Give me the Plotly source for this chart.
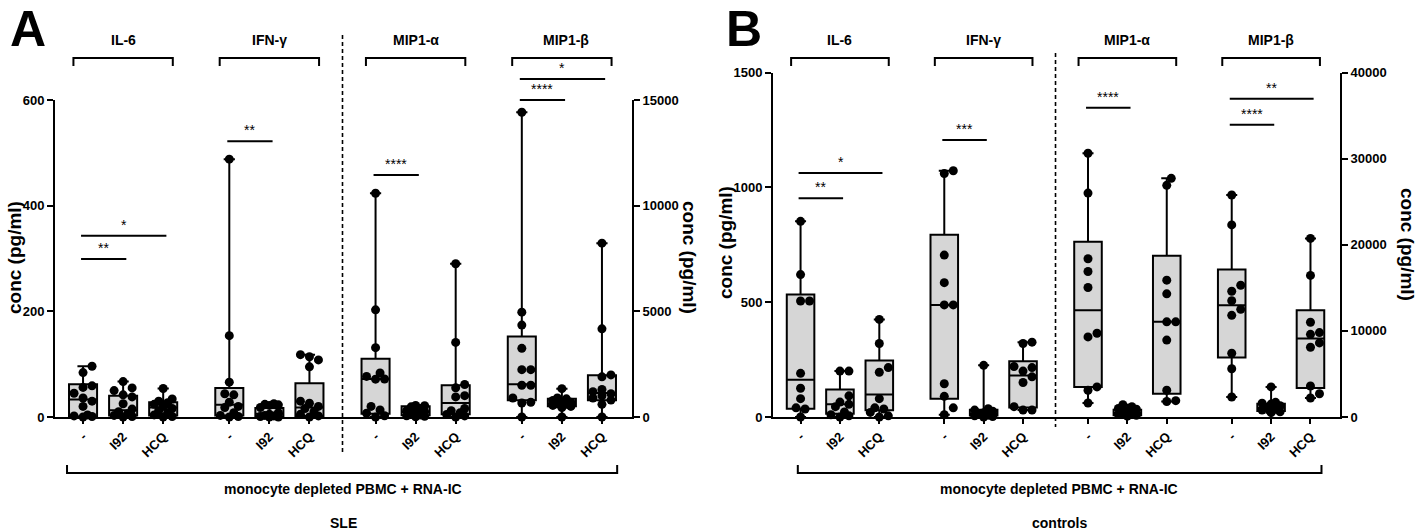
import plotly.graph_objects as go

W, H = 1418, 532
FONT = "Liberation Sans, Arial, sans-serif"

categories = ["-", "I92", "HCQ"]
cytokines = ["IL-6", "IFN-γ", "MIP1-α", "MIP1-β"]

# ---------------- Panel A: SLE (pg/ml) ----------------
a_il6_none = [96, 84, 59, 56, 45, 36, 30, 20, 4, 2, 1, 0]
a_il6_i92 = [67, 55, 50, 42, 38, 25, 15, 10, 6, 3, 1, 0]
a_il6_hcq = [54, 34, 30, 27, 24, 20, 16, 12, 8, 4, 1, 0]
a_ifng_none = [488, 154, 66, 44, 42, 28, 20, 18, 8, 3, 1, 0]
a_ifng_i92 = [25, 24, 23, 22, 18, 8, 5, 3, 2, 1, 0, 0]
a_ifng_hcq = [118, 114, 108, 95, 30, 26, 20, 16, 10, 5, 2, 0]
a_mip1a_none = [10590, 5070, 3280, 2080, 1920, 1800, 1790, 500, 330, 180, 60, 0]
a_mip1a_i92 = [550, 530, 480, 400, 300, 250, 220, 160, 100, 60, 30, 10]
a_mip1a_hcq = [7250, 3530, 1540, 1380, 1010, 950, 400, 300, 200, 120, 50, 0]
a_mip1b_none = [14420, 4960, 4350, 3250, 2240, 2240, 1500, 1500, 900, 700, 660, 0]
a_mip1b_i92 = [1340, 900, 860, 780, 700, 660, 620, 600, 550, 500, 450, 0]
a_mip1b_hcq = [8225, 4170, 1990, 1900, 1300, 1200, 1100, 1000, 900, 800, 600, 0]

a_q1 = [1, 3, 3, 3, 1, 2, 158, 79, 126, 788, 504, 788]
a_median = [33, 13, 18, 23, 6, 18, 1796, 236, 662, 1544, 630, 1134]
a_q3 = [62, 40, 28, 55, 17, 64, 2757, 504, 1497, 3813, 867, 1970]

# ---------------- Panel B: controls (pg/ml) ----------------
b_il6_none = [852, 620, 505, 505, 190, 125, 80, 40, 35, 0]
b_il6_i92 = [200, 200, 92, 65, 55, 45, 22, 10, 5, 0]
b_il6_hcq = [425, 320, 215, 195, 80, 40, 35, 20, 5, 0]
b_ifng_none = [1072, 1060, 705, 585, 488, 488, 145, 90, 40, 10]
b_ifng_i92 = [225, 36, 30, 25, 18, 12, 8, 5, 2, 0]
b_ifng_hcq = [326, 320, 220, 215, 200, 175, 150, 45, 30, 30]
b_mip1a_none = [30620, 26000, 18370, 16900, 15040, 9730, 9300, 3490, 3100, 1630]
b_mip1a_i92 = [1430, 1200, 1000, 900, 700, 500, 400, 300, 200, 100]
b_mip1a_hcq = [27710, 26900, 15890, 14300, 11050, 11050, 8930, 3100, 1900, 1800]
b_mip1b_none = [25775, 22300, 15300, 14600, 13500, 12500, 11800, 7400, 5600, 2326]
b_mip1b_i92 = [3490, 1700, 1600, 1500, 1300, 1100, 1000, 800, 600, 500]
b_mip1b_hcq = [20740, 16440, 11000, 9800, 9600, 8600, 8100, 3600, 2700, 2200]

b_q1 = [36, 14, 29, 80, 7, 41, 3488, 194, 2713, 6900, 698, 3372]
b_median = [162, 55, 98, 488, 14, 181, 12403, 465, 11047, 12985, 1085, 9109]
b_q3 = [533, 120, 246, 793, 32, 243, 20350, 853, 18720, 17130, 1550, 12403]

# significance: (from index, to index, label)
a_sig = [(0, 1, "**"), (0, 2, "*"), (3, 4, "**"), (6, 7, "****"), (9, 10, "****"), (9, 11, "*")]
b_sig = [(0, 1, "**"), (0, 2, "*"), (3, 4, "***"), (6, 7, "****"), (9, 10, "****"), (9, 11, "**")]

# ---------------- layout / style settings ----------------
a_sig_heights = [299, 343, 522, 11450, 15000, 15990]
b_sig_heights = [953, 1062, 1206, 35900, 33920, 36940]

POS = [g * 3.65 + k for g in range(4) for k in range(3)]
XR = [-0.7, 13.7]
BOXW = 0.7
DOT = 9

panels = [
    dict(letter="A", xa="x", ya="y", ya2="y2", xpx=(55, 632), ypx=(417, 100),
         yr=600, yr2=15000, yt=[0, 200, 400, 600], yt2=[0, 5000, 10000, 15000],
         pts=[a_il6_none, a_il6_i92, a_il6_hcq, a_ifng_none, a_ifng_i92, a_ifng_hcq,
              a_mip1a_none, a_mip1a_i92, a_mip1a_hcq, a_mip1b_none, a_mip1b_i92, a_mip1b_hcq],
         q1=a_q1, med=a_median, q3=a_q3, sig=a_sig, sigh=a_sig_heights,
         letter_px=(28, 28.5), title_px=[(14, 258), (689, 257)],
         dash=(6.475, 35, 452), bottom=(-0.4, 13.33), bottom_cx=343, sub="SLE",
         group_title_dx=[0, 0, 0, 0.1]),
    dict(letter="B", xa="x2", ya="y3", ya2="y4", xpx=(773, 1340), ypx=(417, 72.5),
         yr=1500, yr2=40000, yt=[0, 500, 1000, 1500], yt2=[0, 10000, 20000, 30000, 40000],
         pts=[b_il6_none, b_il6_i92, b_il6_hcq, b_ifng_none, b_ifng_i92, b_ifng_hcq,
              b_mip1a_none, b_mip1a_i92, b_mip1a_hcq, b_mip1b_none, b_mip1b_i92, b_mip1b_hcq],
         q1=b_q1, med=b_median, q3=b_q3, sig=b_sig, sigh=b_sig_heights,
         letter_px=(744, 28.5), title_px=[(725, 243), (1408, 244)],
         dash=(6.475, 53, 427), bottom=(-0.07, 13.23), bottom_cx=1059, sub="controls",
         group_title_dx=[0, 0, 0, 0]),
]


def py(p):
    return 1 - p / H


def swarm(values, ppy, ppx, d=DOT, half=13.0):
    cands = [0.0]
    step = d * 0.5
    k = 1
    while k * step <= half + 1e-9:
        cands += [k * step, -k * step]
        k += 1
    placed, res = [], [0.0] * len(values)
    for i in sorted(range(len(values)), key=lambda j: values[j]):
        y = values[i] * ppy
        chosen, best, bestd = None, 0.0, -1
        for c in cands:
            md = min([((c - a) ** 2 + (y - b) ** 2) ** 0.5 for a, b in placed], default=1e9)
            if md >= d * 0.92:
                chosen = c
                break
            if md > bestd:
                bestd, best = md, c
        if chosen is None:
            chosen = best
        placed.append((chosen, y))
        res[i] = chosen / ppx
    return res


def text(x, y, s, size, xref="paper", bold=True, angle=0, yanchor="middle", pad=1):
    return dict(x=x, y=y, xref=xref, yref="paper", text=s, showarrow=False,
                textangle=angle, xanchor="center", yanchor=yanchor, borderpad=pad,
                font=dict(family=FONT, size=size, color="black",
                          weight="bold" if bold else "normal"))


fig = go.Figure()
shapes, annots = [], []
layout_axes = {}

for pi, P in enumerate(panels):
    x0p, x1p = P["xpx"]
    yb, yt = P["ypx"]
    ppx = (x1p - x0p) / (XR[1] - XR[0])
    ppy_l = (yb - yt) / P["yr"]
    ppy_r = (yb - yt) / P["yr2"]

    # boxes
    for idx, ya in ((list(range(0, 6)), P["ya"]), (list(range(6, 12)), P["ya2"])):
        fig.add_trace(go.Box(
            x=[POS[i] for i in idx],
            q1=[P["q1"][i] for i in idx], median=[P["med"][i] for i in idx],
            q3=[P["q3"][i] for i in idx],
            lowerfence=[min(P["pts"][i]) for i in idx],
            upperfence=[max(P["pts"][i]) for i in idx],
            width=BOXW, whiskerwidth=0.4, boxpoints=False,
            fillcolor="#d6d6d6", line=dict(color="black", width=2),
            xaxis=P["xa"], yaxis=ya, showlegend=False, hoverinfo="skip"))
    # points
    for i in range(12):
        vals = P["pts"][i]
        ppy = ppy_l if i < 6 else ppy_r
        offs = swarm(vals, ppy, ppx)
        fig.add_trace(go.Scatter(
            x=[POS[i] + o for o in offs], y=vals, mode="markers",
            marker=dict(color="black", size=DOT, line=dict(width=0)),
            cliponaxis=False, xaxis=P["xa"], yaxis=P["ya"] if i < 6 else P["ya2"],
            showlegend=False, hoverinfo="skip"))

    xname = "xaxis" if P["xa"] == "x" else "xaxis" + P["xa"][1:]
    yname = "yaxis" if P["ya"] == "y" else "yaxis" + P["ya"][1:]
    yname2 = "yaxis" + P["ya2"][1:]
    dom_y = [py(yb), py(yt)]
    tickf = dict(family=FONT, size=13, color="black", weight="bold")
    layout_axes[xname] = dict(
        domain=[x0p / W, x1p / W], range=XR, anchor=P["ya"], showline=True,
        linecolor="black", linewidth=2, ticks="outside", ticklen=5, tickwidth=2,
        tickcolor="black", tickvals=POS, ticktext=categories * 4, tickangle=-45,
        tickfont=dict(family=FONT, size=13, color="black", weight="bold"),
        showgrid=False, zeroline=False, fixedrange=True, automargin=False)
    layout_axes[yname] = dict(
        domain=dom_y, range=[0, P["yr"]], anchor=P["xa"], showline=True,
        linecolor="black", linewidth=2, ticks="outside", ticklen=6, tickwidth=2,
        tickcolor="black", tickvals=P["yt"], ticktext=[str(v) for v in P["yt"]],
        tickfont=tickf, showgrid=False, zeroline=False, fixedrange=True, automargin=False)
    layout_axes[yname2] = dict(
        overlaying=P["ya"], side="right", range=[0, P["yr2"]], anchor=P["xa"],
        showline=True, linecolor="black", linewidth=2, ticks="outside", ticklen=6,
        tickwidth=2, tickcolor="black", tickvals=P["yt2"],
        ticktext=[str(v) for v in P["yt2"]], tickfont=tickf,
        showgrid=False, zeroline=False, fixedrange=True, automargin=False)

    # group titles and brackets
    for g, name in enumerate(cytokines):
        c = POS[g * 3 + 1]
        annots.append(text(c + P["group_title_dx"][g], py(40), name, 14, xref=P["xa"]))
        shapes.append(dict(type="path", xref=P["xa"], yref="paper",
                           path=f"M {c-1.24},{py(66)} L {c-1.24},{py(58)} L {c+1.24},{py(58)} L {c+1.24},{py(66)}",
                           line=dict(color="black", width=2)))

    # significance bars
    for (a, b, lab), h in zip(P["sig"], P["sigh"]):
        yr = P["yr"] if a < 6 else P["yr2"]
        ypix = yb - (yb - yt) * h / yr
        xa0, xa1 = POS[a] - 0.05, POS[b] + 0.08
        shapes.append(dict(type="line", xref=P["xa"], yref="paper", x0=xa0, x1=xa1,
                           y0=py(ypix), y1=py(ypix), line=dict(color="black", width=2)))
        annots.append(text((xa0 + xa1) / 2, py(ypix - 1), lab, 14, xref=P["xa"],
                           bold=False, yanchor="bottom"))

    # divider
    dx, dy0, dy1 = P["dash"]
    shapes.append(dict(type="line", xref=P["xa"], yref="paper", x0=dx, x1=dx,
                       y0=py(dy0), y1=py(dy1), line=dict(color="black", width=1.6, dash="4px,3px")))

    # bottom bracket and labels
    bx0, bx1 = P["bottom"]
    shapes.append(dict(type="path", xref=P["xa"], yref="paper",
                       path=f"M {bx0},{py(465)} L {bx0},{py(473)} L {bx1},{py(473)} L {bx1},{py(465)}",
                       line=dict(color="black", width=2)))
    annots.append(text(P["bottom_cx"] / W, py(489), "monocyte depleted PBMC + RNA-IC", 14))
    annots.append(text(P["bottom_cx"] / W, py(523), P["sub"], 14))

    # axis titles
    for (tx, ty), ang in zip(P["title_px"], (-90, 90)):
        annots.append(text(tx / W, py(ty), "conc (pg/ml)", 19, angle=ang))
    # panel letter
    lx, ly = P["letter_px"]
    annots.append(text(lx / W, py(ly), P["letter"], 50, pad=0))

fig.update_layout(
    template="none",
    width=W, height=H, margin=dict(l=0, r=0, t=0, b=0, autoexpand=False),
    paper_bgcolor="white", plot_bgcolor="white",
    boxmode="overlay", showlegend=False,
    font=dict(family=FONT, color="black"),
    shapes=shapes, annotations=annots, **layout_axes)

fig.write_html("out.html", config={"displayModeBar": False, "staticPlot": True},
               post_script="document.body.style.margin='0';document.body.style.overflow='hidden';")
